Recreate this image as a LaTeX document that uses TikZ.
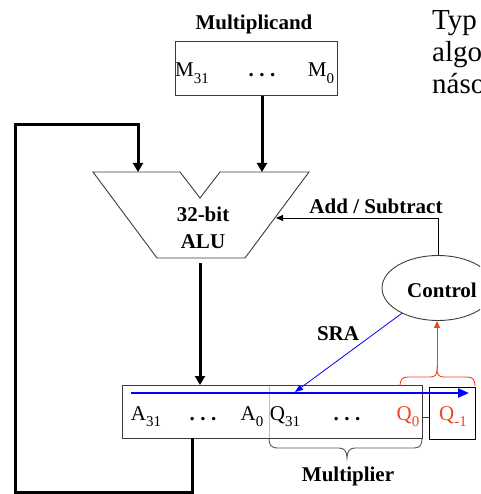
\documentclass[tikz,border=0pt]{standalone}
\usepackage{fontspec}
\setmainfont{Liberation Serif}
\usetikzlibrary{arrows.meta,shapes.geometric,calc}
\definecolor{qred}{RGB}{240,70,30}
\definecolor{braceg}{RGB}{85,85,85}
\definecolor{boxg}{RGB}{60,60,60}
\newcommand\sbx[1]{\raisebox{-0.3em}{\fontsize{15}{15}\selectfont #1}}
\newcommand\tdots{\textbf{.}\hspace{5.5pt}\textbf{.}\hspace{5.5pt}\textbf{.}}
\begin{document}
\begin{tikzpicture}[x=1pt,y=-1pt,
  lbl/.style={font=\fontsize{21}{24}\selectfont\bfseries, inner sep=0, anchor=base},
  reg/.style={font=\fontsize{21}{24}\selectfont, inner sep=0, anchor=base},
  bigtxt/.style={font=\fontsize{29}{32}\selectfont, inner sep=0, anchor=base west},
  thinbox/.style={draw=boxg, line width=0.9pt, inner sep=0},
  thickw/.style={line width=3pt},
  bigarr/.style={-{Triangle[width=10pt,length=9pt]}},
  smallarr/.style={-{Triangle[width=6pt,length=7pt]}}]
\useasboundingbox (0,0) rectangle (480,494);
\clip (0,0) rectangle (480,494);

% side text (cut off at the right edge)
\node[bigtxt] (t1) at (432,30) {Typ};
\node[bigtxt] (t2) at (432,62) {algo};
\node[bigtxt] (t3) at (432,94) {náso};

% multiplicand
\node[lbl] (mlabel) at (254,30) {Multiplicand};
\node[thinbox, minimum width=162pt, minimum height=54pt] (mbox) at (256,68.5) {};
\node[reg] (m31) at (192,77) {M\sbx{31}};
\node[reg] (mdots) at (262,77) {\tdots};
\node[reg] (m0) at (321,77) {M\sbx{0}};

% ALU
\coordinate (alutl) at (93,172);
\coordinate (aluna) at (180,172);
\coordinate (alunb) at (200,198);
\coordinate (alunc) at (220,172);
\coordinate (alutr) at (309,172);
\coordinate (alubr) at (245,258);
\coordinate (alubl) at (157,258);
\draw[draw=boxg, line width=0.9pt, line join=miter] (alutl) -- (aluna) -- (alunb) -- (alunc) -- (alutr) -- (alubr) -- (alubl) -- cycle;
\node[lbl] (alu1) at (203,221) {32-bit};
\node[lbl] (alu2) at (203,248) {ALU};
\coordinate (aluinL) at (138,172);
\coordinate (aluinR) at (262,172);
\coordinate (aluinS) at (276,218);
\coordinate (aluout) at (200,263);

% control
\node[draw=boxg, line width=0.9pt, ellipse, minimum width=112pt, minimum height=65pt, inner sep=0] (ctrl) at (438,288) {};
\node[lbl] (ctrltxt) at (442,297) {Control};
\node[lbl] (addsub) at (376,213) {Add / Subtract};
\node[lbl] (sra) at (338,340) {SRA};

% register A/Q
\node[thinbox, minimum width=300pt, minimum height=53pt] (reg) at (272,411.5) {};
\node[thinbox, draw=black, minimum width=46pt, minimum height=52pt] (qm1) at (452,413) {};
\coordinate (divt) at (269,385.5);
\coordinate (divb) at (269,437.5);
\draw[black!25, line width=0.9pt] (divt) -- (divb);
\draw[boxg, line width=0.9pt] ($(reg.east)+(0,5.5)$) -- ($(qm1.west)+(0,4)$);
\node[reg] (a31) at (146,420) {A\sbx{31}};
\node[reg] (adots) at (203,420) {\tdots};
\node[reg] (a0) at (252,420) {A\sbx{0}};
\node[reg] (q31) at (285,420) {Q\sbx{31}};
\node[reg] (qdots) at (347,420) {\tdots};
\node[reg, text=qred] (q0) at (408,420) {Q\sbx{0}};
\node[reg, text=qred] (qm) at (453,420) {Q\sbx{-1}};

% connectors
\draw[thickw, bigarr] ($(mbox.south)+(6,0)$) -- (aluinR);
\coordinate (regout) at (192,438);
\coordinate (loop1) at (192,492);
\coordinate (loop2) at (15,492);
\coordinate (loop3) at (15,125);
\coordinate (loop4) at (138,125);
\draw[thickw, bigarr] (regout) -- (loop1) -- (loop2) -- (loop3) -- (loop4) -- (aluinL);
\coordinate (regin) at (200,385);
\draw[thickw, bigarr] (aluout) -- (regin);
\draw[line width=0.9pt, smallarr] (ctrl.north) |- (aluinS);

\coordinate (blst) at (131,393);
\coordinate (blend) at (469,393);
\draw[blue, line width=2.3pt, -{Triangle[width=9pt,length=11pt]}] (blst) -- (blend);
\coordinate (sratip) at (295,392);
\draw[blue, line width=0.8pt, -{Triangle[width=6pt,length=8pt]}] (ctrl.215) -- (sratip);

% braces
\coordinate (bracetip) at (437,369);
\draw[qred, line width=0.9pt] (400,386) .. controls (400,380) and (402,377) .. (408,377) -- (430,377) .. controls (435,377) and (437,375) .. (bracetip) .. controls (437,375) and (439,377) .. (444,377) -- (467,377) .. controls (473,377) and (475,380) .. (475,386);
\draw[qred, line width=0.9pt, smallarr] (bracetip) -- (ctrl.south -| bracetip);
\draw[braceg, line width=0.9pt] (269,438) .. controls (269,445) and (271,448) .. (278,448) -- (339,448) .. controls (344,448) and (347,451) .. (347,458) .. controls (347,451) and (350,448) .. (355,448) -- (414,448) .. controls (420,448) and (422,445) .. (422,438);
\node[lbl] (mult) at (348,481) {Multiplier};
\end{tikzpicture}
\end{document}
